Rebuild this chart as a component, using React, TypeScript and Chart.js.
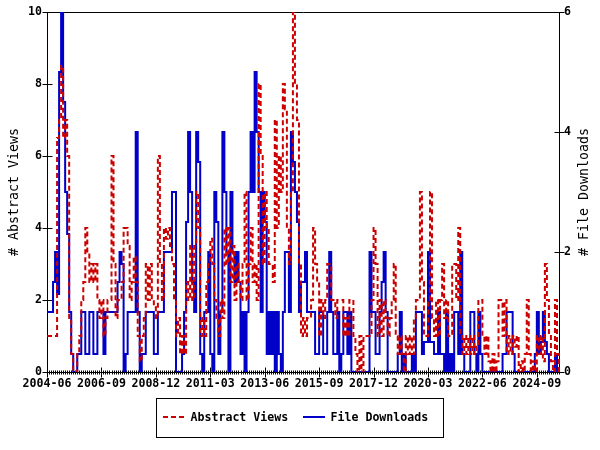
import React, { useEffect, useRef } from 'react';
import { Chart, registerables } from 'chart.js';

Chart.register(...registerables);

// ---- data ----
const START_YEAR = 2004;
const START_MONTH = 6; // June
const N_MONTHS = 255; // 2004-06 .. 2025-08
const TICK_EVERY = 27; // label every 27 months
const MONTHS: string[] = [];
for (let i = 0; i < N_MONTHS; i++) {
  const m = START_MONTH - 1 + i;
  const y = START_YEAR + Math.floor(m / 12);
  const mm = (m % 12) + 1;
  MONTHS.push(`${y}-${mm < 10 ? '0' + mm : mm}`);
}

const ABSTRACT_VIEWS = [
  1, 1, 1, 1, 1, 6.5, 7, 8.5, 6.5, 7,
  6, 1.5, 0.5, 0, 0, 0.5, 1, 2, 2.5, 4,
  3.3, 2.5, 3, 2.5, 3, 2, 1.5, 2, 1, 1.5,
  2, 2, 6, 3, 1.5, 2, 2, 2.5, 4, 4,
  3.5, 2, 2.5, 3.2, 2.5, 1, 0.3, 1, 1.5, 3,
  2, 3, 2, 1.8, 1.5, 6, 3, 2, 4, 3.7,
  4, 3.5, 3, 2, 1, 1.5, 0.5, 1, 0.5, 2.5,
  2, 3.5, 2, 3.5, 5, 4, 1, 1.5, 1, 2.5,
  3, 3.7, 3, 2, 1.5, 1, 2, 1.5, 4, 3,
  4, 2.5, 3.5, 2, 3, 2.5, 2, 3, 5, 2,
  3, 4, 2.5, 3, 2, 8, 6, 3, 5, 4,
  3, 3, 2.5, 7, 4, 6, 5, 8, 7.3, 4,
  3, 5, 10, 8, 7, 3, 1, 1.5, 1, 1.5,
  1.5, 2, 4, 3, 2.5, 1, 2, 1.5, 2, 3,
  3, 2, 2, 1.5, 2, 2, 2, 1, 1.5, 1,
  2, 2, 1, 0.5, 0, 1, 0, 1, 1, 1,
  1, 2, 4, 3, 1, 2, 1, 2, 1.5, 1,
  1.5, 2, 3, 1, 0.5, 1, 0.5, 0, 1, 0.5,
  1, 0.5, 1.5, 2, 2, 5, 2.5, 1, 1, 2,
  5, 1.5, 1, 2, 1, 2, 3, 1.5, 2, 1,
  1, 3, 3, 2, 4, 1, 0.5, 1, 0.5, 1,
  0.5, 1, 0.5, 0.7, 2, 2, 1, 0.5, 1, 0.3,
  0, 0.5, 0, 0.3, 2, 2, 1, 2, 0.5, 1,
  0.5, 1, 0.7, 1, 0, 0.3, 0, 0.5, 2, 0.5,
  0, 0.3, 0, 1, 0.5, 1, 0.3, 3, 2, 1,
  0.3, 0, 2, 0.5, 0,
];

const FILE_DOWNLOADS = [
  1, 1, 1, 1.5, 2, 1.3, 5, 6, 4.5, 3,
  2.3, 1, 0.3, 0, 0, 0.3, 0.3, 1, 1, 0.3,
  0.3, 1, 1, 0.3, 0.3, 1, 1, 1, 0.3, 1,
  1, 1, 1, 1, 1, 1.5, 2, 1.8, 0, 0.3,
  1, 1, 1, 1, 4, 1, 0, 0.3, 0.3, 1,
  1, 1, 1, 0.3, 0.3, 1, 1, 1, 2, 2,
  2, 2, 3, 3, 0, 0, 0, 0.3, 1, 2.5,
  4, 3, 1.5, 1, 4, 3.5, 0.3, 0, 1, 1,
  2, 0.3, 0, 3, 2.5, 0.3, 1, 4, 3, 2,
  0, 3, 2, 1.5, 2, 1.5, 0.3, 1, 0, 1,
  3, 4, 3, 5, 4, 3, 1, 3, 2.5, 0.3,
  1, 0.3, 1, 0, 1, 0.3, 0, 1, 2, 2,
  1, 4, 3.5, 3, 2.5, 1, 1.5, 1.5, 2, 1,
  1, 1, 1, 0.3, 0.3, 1, 1, 0.3, 0.3, 1,
  2, 1, 0.3, 0.3, 1, 0, 0.3, 1, 1, 0.3,
  1, 0, 0, 0, 0, 0, 0, 0, 0, 0,
  2, 1, 1, 0.3, 0.3, 1, 1.5, 2, 1, 0,
  0, 0, 0, 0, 0.3, 1, 0, 0.3, 0, 0,
  0, 0.3, 0, 1, 1, 1, 0.3, 0.5, 0.5, 2,
  0.5, 0.5, 0.3, 0.3, 1, 0.3, 0.3, 0, 1, 0,
  0.3, 0, 1, 1, 0.3, 2, 0.3, 0, 0, 0,
  1, 1, 0.3, 0, 1, 0.3, 0, 0, 0, 0,
  0, 0, 0, 0, 0, 0, 0.3, 0.3, 1, 1,
  1, 0.3, 0, 0, 0, 0, 0, 0, 0, 0,
  0, 0, 0.3, 1, 0.3, 0.5, 1, 0.5, 0.3, 0,
  0, 0, 0.3, 0, 0,
];

const LEFT_TICKS = [0, 2, 4, 6, 8, 10];
const RIGHT_TICKS = [0, 2, 4, 6];
const LEFT_TITLE = '# Abstract Views';
const RIGHT_TITLE = '# File Downloads';

// ---- styles ----
const RED = '#cc0000';
const BLUE = '#0000c8';
const MONO = '"DejaVu Sans Mono", "Liberation Mono", monospace';
const DASH = [5, 3];

const framePlugin = {
  id: 'frame',
  beforeDatasetsDraw(chart: any) {
    const { ctx, chartArea } = chart;
    const { left, right, top, bottom } = chartArea;
    ctx.save();
    ctx.strokeStyle = '#000';
    ctx.lineWidth = 1;
    ctx.beginPath();
    ctx.rect(Math.round(left) + 0.5, Math.round(top) + 0.5, Math.round(right) - Math.round(left), Math.round(bottom) - Math.round(top));
    const b = Math.round(bottom) + 0.5;
    const xs = chart.scales.x;
    for (let i = 0; i < MONTHS.length; i++) {
      const px = Math.round(xs.getPixelForValue(i)) + 0.5;
      const len = i % TICK_EVERY === 0 ? 5 : 2;
      ctx.moveTo(px, b - len);
      ctx.lineTo(px, b + len);
    }
    const l = Math.round(left) + 0.5;
    for (const v of LEFT_TICKS) {
      const py = Math.round(chart.scales.y.getPixelForValue(v)) + 0.5;
      ctx.moveTo(l - 5, py);
      ctx.lineTo(l + 5, py);
    }
    const r = Math.round(right) + 0.5;
    for (const v of RIGHT_TICKS) {
      const py = Math.round(chart.scales.y1.getPixelForValue(v)) + 0.5;
      ctx.moveTo(r - 5, py);
      ctx.lineTo(r + 5, py);
    }
    ctx.stroke();
    ctx.restore();
  },
  afterDraw(chart: any) {
    const { ctx, chartArea } = chart;
    ctx.save();
    // right axis title (reads bottom-to-top)
    ctx.fillStyle = '#000';
    ctx.font = `13.3px ${MONO}`;
    ctx.textAlign = 'center';
    ctx.textBaseline = 'middle';
    ctx.translate(585, (chartArea.top + chartArea.bottom) / 2);
    ctx.rotate(-Math.PI / 2);
    ctx.fillText(RIGHT_TITLE, 0, 0);
    ctx.restore();

    // legend box
    const ds = chart.data.datasets;
    ctx.save();
    ctx.strokeStyle = '#000';
    ctx.lineWidth = 1;
    ctx.strokeRect(156.5, 398.5, 287, 39);
    const ly = 417;
    ctx.lineWidth = 2;
    ctx.strokeStyle = ds[0].borderColor;
    ctx.setLineDash(DASH);
    ctx.beginPath();
    ctx.moveTo(163, ly);
    ctx.lineTo(184, ly);
    ctx.stroke();
    ctx.setLineDash([]);
    ctx.strokeStyle = ds[1].borderColor;
    ctx.beginPath();
    ctx.moveTo(303, ly);
    ctx.lineTo(325, ly);
    ctx.stroke();
    ctx.fillStyle = '#000';
    ctx.font = `bold 11.6px ${MONO}`;
    ctx.textAlign = 'left';
    ctx.textBaseline = 'middle';
    ctx.fillText(ds[0].label, 190.5, ly + 0.5);
    ctx.fillText(ds[1].label, 330.5, ly + 0.5);
    ctx.restore();
  },
};

export default function App() {
  const ref = useRef<HTMLCanvasElement>(null);
  useEffect(() => {
    document.body.style.margin = '0';
    const canvas = ref.current;
    if (!canvas) return;
    const tickFont = { family: MONO, size: 11.6, weight: 'bold' as const };
    const chart = new Chart(canvas, {
      type: 'line',
      data: {
        labels: MONTHS,
        datasets: [
          {
            label: 'Abstract Views',
            data: ABSTRACT_VIEWS,
            yAxisID: 'y',
            borderColor: RED,
            backgroundColor: RED,
            borderWidth: 2,
            borderDash: DASH,
            pointRadius: 0,
            stepped: true,
            fill: false,
          },
          {
            label: 'File Downloads',
            data: FILE_DOWNLOADS,
            yAxisID: 'y1',
            borderColor: BLUE,
            backgroundColor: BLUE,
            borderWidth: 2,
            pointRadius: 0,
            stepped: true,
            fill: false,
          },
        ],
      },
      options: {
        responsive: false,
        animation: false,
        layout: { padding: { top: 10, bottom: 54, left: 0, right: 0 } },
        plugins: {
          legend: { display: false },
          tooltip: { enabled: false },
        },
        scales: {
          x: {
            type: 'category',
            offset: false,
            grid: { display: false, drawTicks: false },
            border: { display: false },
            ticks: {
              autoSkip: false,
              maxRotation: 0,
              minRotation: 0,
              padding: 5,
              color: '#000',
              font: tickFont,
              callback: (_v: any, idx: number) => (idx % TICK_EVERY === 0 ? MONTHS[idx] : ''),
            },
            afterFit: (s: any) => { s.height = 24; },
          },
          y: {
            position: 'left',
            min: 0,
            max: 10,
            grid: { display: false, drawTicks: false },
            border: { display: false },
            ticks: { stepSize: 2, padding: 5, color: '#000', font: tickFont },
            title: {
              display: true,
              text: LEFT_TITLE,
              color: '#000',
              font: { family: MONO, size: 13.3 },
              padding: { top: 7, bottom: 0 },
            },
            afterFit: (s: any) => { s.width = 47; },
          },
          y1: {
            position: 'right',
            min: 0,
            max: 6,
            grid: { display: false, drawTicks: false },
            border: { display: false },
            ticks: { stepSize: 2, padding: 5, color: '#000', font: tickFont },
            afterFit: (s: any) => { s.width = 41; },
          },
        },
      },
      plugins: [framePlugin],
    });
    return () => chart.destroy();
  }, []);
  return (
    <div style={{ width: 600, height: 450, background: '#fff' }}>
      <canvas ref={ref} width={600} height={450} />
    </div>
  );
}
